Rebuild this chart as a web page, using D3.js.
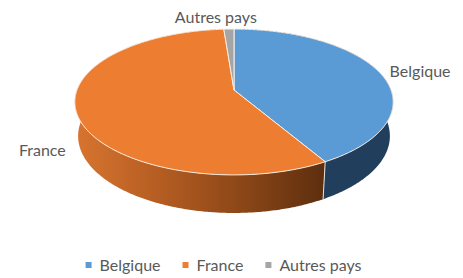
<!DOCTYPE html>
<html lang="fr">
  <head>
    <meta charset="utf-8">
    <title>Pie 3D</title>
    <style>
      body { margin: 0; background: #fff; }
      svg { display: block; }
      text { font-family: Lato, "Open Sans", sans-serif; fill: #595959; }
    </style>
  </head>
  <body>
    <svg></svg>
    <script src="https://d3js.org/d3.v7.min.js"></script>
    <script type="text/javascript">
      // data (percent)
      var categories = ["Belgique", "France", "Autres pays"];
      var values = [41.7, 57.1, 1.2];
      var topColors = ["#5b9bd5", "#ed7d31", "#a5a5a5"];
      var sideColors = ["#213f5d", "url(#franceSide)", "#6e6e6e"];

      var width = 463, height = 278;
      var svg = d3.select("svg").attr("width", width).attr("height", height);

      // simple perspective projection of a flat cylinder
      var cx = 234, cy = 90;
      var sinT = 0.452, cosT = Math.sqrt(1 - sinT * sinT);
      var D = 5.43, f = 852.5, depth = 0.245;
      function proj(th, r, y3) {
        var x3 = r * Math.sin(th), z3 = -r * Math.cos(th);
        var w = D - z3 * cosT - y3 * sinT;
        return [cx + f * x3 / w, cy + f * (z3 * sinT - y3 * cosT) / w];
      }
      function edge(a0, a1, y3) {
        var n = Math.max(2, Math.ceil(Math.abs(a1 - a0) / 0.01));
        return d3.range(n + 1).map(function(i) {
          return proj(a0 + (a1 - a0) * i / n, 1, y3);
        });
      }

      var defs = svg.append("defs");
      var grad = defs.append("linearGradient")
        .attr("id", "franceSide")
        .attr("gradientUnits", "userSpaceOnUse")
        .attr("x1", 75).attr("x2", 326).attr("y1", 0).attr("y2", 0);
      [["0", "#d8752f"], ["0.35", "#b35c22"], ["0.7", "#874416"], ["1", "#5c2e0e"]].forEach(function(s) {
        grad.append("stop").attr("offset", s[0]).attr("stop-color", s[1]);
      });

      var arcs = d3.pie().sort(null).value(function(d) { return d; })(values);
      var line = d3.line();

      // side walls first, tops cover the back parts
      svg.append("g").selectAll("path")
        .data(arcs)
        .enter()
        .append("path")
        .attr("d", function(d) {
          var pts = edge(d.startAngle, d.endAngle, 0)
            .concat(edge(d.endAngle, d.startAngle, -depth));
          return line(pts) + "Z";
        })
        .style("fill", function(d, i) { return sideColors[i]; });

      // visible slice borders on the side
      svg.append("g").selectAll("line")
        .data(arcs.filter(function(d) {
          return d.startAngle > 1.75 && d.startAngle < 4.53;
        }))
        .enter()
        .append("line")
        .each(function(d) {
          var a = proj(d.startAngle, 1, 0), b = proj(d.startAngle, 1, -depth);
          d3.select(this).attr("x1", a[0]).attr("y1", a[1]).attr("x2", b[0]).attr("y2", b[1]);
        })
        .style("stroke", "#e8e0d8")
        .style("stroke-width", 1);

      svg.append("g").selectAll("path")
        .data(arcs)
        .enter()
        .append("path")
        .attr("d", function(d) {
          var pts = [proj(0, 0, 0)].concat(edge(d.startAngle, d.endAngle, 0));
          return line(pts) + "Z";
        })
        .style("fill", function(d, i) { return topColors[i]; })
        .style("stroke", "#fbeee4")
        .style("stroke-width", 1)
        .style("stroke-linejoin", "round");

      // data labels
      var labelNudge = [[6, 3], [8, 33], [-12, 1]];
      svg.append("g").selectAll("text")
        .data(arcs)
        .enter()
        .append("text")
        .attr("x", function(d, i) { return proj((d.startAngle + d.endAngle) / 2, 1.25, 0)[0] + labelNudge[i][0]; })
        .attr("y", function(d, i) { return proj((d.startAngle + d.endAngle) / 2, 1.25, 0)[1] + labelNudge[i][1]; })
        .attr("text-anchor", "middle")
        .attr("dy", "0.35em")
        .style("font-size", "16px")
        .text(function(d, i) { return categories[i]; });

      // legend
      var legend = svg.append("g");
      var items = legend.selectAll("g")
        .data(categories)
        .enter()
        .append("g");
      items.append("rect")
        .attr("width", 6).attr("height", 6)
        .attr("y", -9)
        .style("fill", function(d, i) { return topColors[i]; });
      items.append("text")
        .attr("x", 14)
        .style("font-size", "16px")
        .text(function(d) { return d; });
      var xPos = 0;
      items.each(function() {
        var g = d3.select(this);
        g.attr("transform", "translate(" + xPos + ",0)");
        xPos += 14 + g.select("text").node().getComputedTextLength() + 22;
      });
      xPos -= 22;
      legend.attr("transform", "translate(" + ((width - xPos) / 2 - 8) + ",271)");
    </script>
  </body>
</html>
